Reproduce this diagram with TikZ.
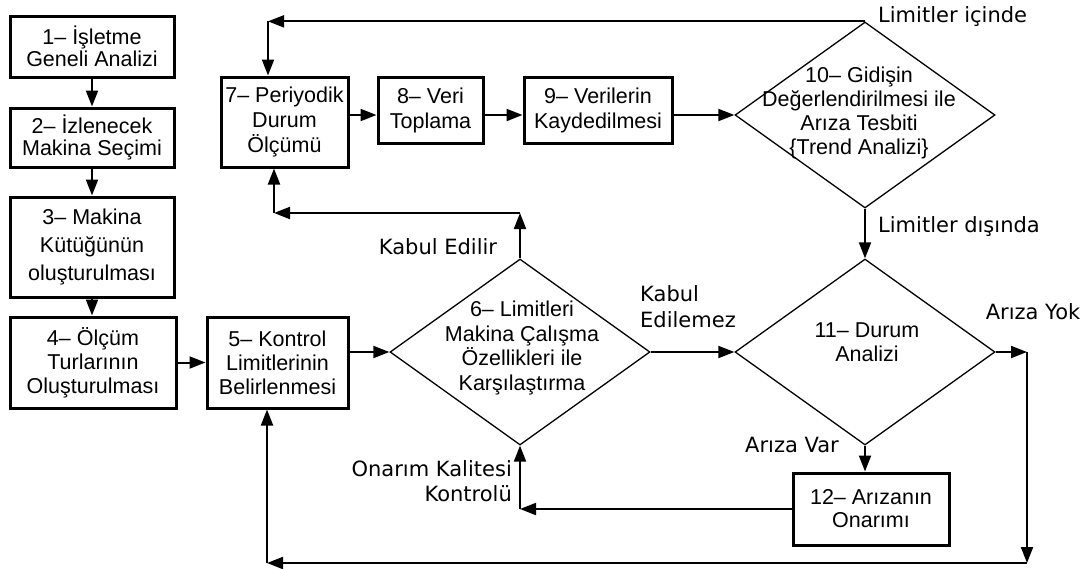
\documentclass[tikz,border=0pt]{standalone}
\usepackage{fontspec}
\setmainfont{Liberation Sans}
\newfontfamily\lblfont{DejaVu Sans}
\usetikzlibrary{shapes.geometric,arrows.meta}
\begin{document}
\begin{tikzpicture}[x=1pt,y=-1pt,
  box/.style={draw, line width=3pt, align=center, inner sep=0pt},
  dia/.style={draw, diamond, line width=1.3pt, inner sep=0pt, minimum width=260pt, minimum height=186pt},
  dtext/.style={align=center, inner sep=0pt},
  lbl/.style={inner sep=0pt, font=\lblfont\fontsize{21}{26}\selectfont},
  arr/.style={line width=2pt, -{Triangle[length=16pt,width=12pt]}}]
\useasboundingbox (0,0) rectangle (1091,568);
% boxes
\node[box, minimum width=164pt, minimum height=61pt, font=\fontsize{21.5}{22}\selectfont] (b1) at (92,46.5) {1– İşletme\\Geneli Analizi};
\node[box, minimum width=164pt, minimum height=59pt, font=\fontsize{21.5}{22}\selectfont] (b2) at (92,137.5) {2– İzlenecek\\Makina Seçimi};
\node[box, minimum width=164pt, minimum height=100pt, font=\fontsize{21.5}{28}\selectfont] (b3) at (92,247) {3– Makina\\Kütüğünün\\oluşturulması};
\node[box, minimum width=166pt, minimum height=91pt, font=\fontsize{21.5}{24}\selectfont] (b4) at (93,362.5) {4– Ölçüm\\Turlarının\\Oluşturulması};
\node[box, minimum width=141pt, minimum height=91pt, font=\fontsize{21.5}{24}\selectfont] (b5) at (277.5,362.5) {5– Kontrol\\Limitlerinin\\Belirlenmesi};
\node[box, minimum width=127pt, minimum height=90pt, font=\fontsize{21.5}{25}\selectfont] (b7) at (284.5,122) {7– Periyodik\\Durum\\Ölçümü};
\node[box, minimum width=105pt, minimum height=66pt, font=\fontsize{21.5}{25}\selectfont] (b8) at (430.5,110) {8– Veri\\Toplama};
\node[box, minimum width=148pt, minimum height=66pt, font=\fontsize{21.5}{25}\selectfont] (b9) at (598,110) {9– Verilerin\\Kaydedilmesi};
\node[box, minimum width=156pt, minimum height=72pt, font=\fontsize{21.5}{23}\selectfont] (b12) at (871,509) {12– Arızanın\\Onarımı};
% diamonds
\node[dia] (d6) at (520,352) {};
\node[dia] (d10) at (865,115) {};
\node[dia] (d11) at (865,352) {};
\node[dtext, font=\fontsize{21.5}{24.5}\selectfont] (t6) at (522,348) {6– Limitleri\\Makina Çalışma\\Özellikleri ile\\Karşılaştırma};
\node[dtext, font=\fontsize{21.5}{24}\selectfont] (t10) at (859,113) {10– Gidişin\\Değerlendirilmesi ile\\Arıza Tesbiti\\\{Trend Analizi\}};
\node[dtext, font=\fontsize{21.5}{24}\selectfont] (t11) at (867,342) {11– Durum\\Analizi};
% helper coordinates
\coordinate (x268) at (268,0);
\coordinate (t1) at (d10.north -| x268);
\coordinate (u1) at (520,213);
\coordinate (u2) at (274,213);
\coordinate (r1) at (1027,352);
\coordinate (r2) at (1027,563);
\coordinate (r3) at (267,563);
\coordinate (q1) at (d6.south |- b12.west);
% connectors
\draw[arr] (b1) -- (b2);
\draw[arr] (b2) -- (b3);
\draw[arr] (b3.south) -- (b3.south |- b4.north);
\draw[arr] (b4) -- (b5);
\draw[arr] (b5.east |- d6.west) -- (d6.west);
\draw[arr] (b7.east |- d10.west) -- (b8.west |- d10.west);
\draw[arr] (b8.east |- d10.west) -- (b9.west |- d10.west);
\draw[arr] (b9.east |- d10.west) -- (d10.west);
\draw[arr] (d10.north) -- (t1);
\draw[arr] (t1) -- (t1 |- b7.north);
\draw[arr] (d6.north) -- (u1);
\draw[arr] (u1) -- (u2);
\draw[arr] (u2) -- (u2 |- b7.south);
\draw[arr] (d6.east) -- (d11.west);
\draw[arr] (d10.south) -- (d11.north);
\draw[arr] (d11.south) -- (d11.south |- b12.north);
\draw[arr] (d11.east) -- (r1);
\draw[arr] (r1) -- (r2);
\draw[arr] (r2) -- (r3);
\draw[arr] (r3) -- (r3 |- b5.south);
\draw[arr] (b12.west) -- (q1);
\draw[arr] (q1) -- (d6.south);
% labels
\node[lbl, anchor=west] (l1) at (878,17) {Limitler içinde};
\node[lbl, anchor=west] (l2) at (878,227) {Limitler dışında};
\node[lbl] (l3) at (438,247) {Kabul Edilir};
\node[lbl, align=left, anchor=west, font=\lblfont\fontsize{21}{26}\selectfont] (l4) at (640,307) {Kabul\\Edilemez};
\node[lbl, align=right, anchor=east, font=\lblfont\fontsize{21}{25}\selectfont] (l5) at (512,481) {Onarım Kalitesi\\Kontrolü};
\node[lbl] (l6) at (1033,312) {Arıza Yok};
\node[lbl] (l7) at (792,445) {Arıza Var};
\end{tikzpicture}
\end{document}
